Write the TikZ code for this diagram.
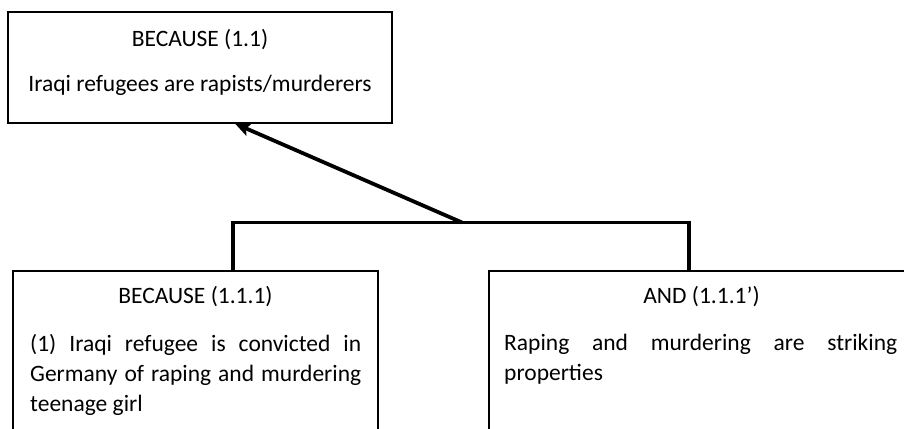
\documentclass[tikz,border=0pt]{standalone}
\usepackage{fontspec}
\setmainfont{Carlito}
\usetikzlibrary{arrows.meta,calc,positioning}

\begin{document}
\begin{tikzpicture}[x=1pt,y=-1pt,
		box/.style={draw, line width=1.3pt, inner sep=0pt},
		label/.style={font=\fontsize{23.5}{30}\selectfont, inner sep=0pt},
		body/.style={label, align=justify, execute at begin node={\hyphenpenalty=10000\exhyphenpenalty=10000}},
		link/.style={line width=3.8pt, line join=miter},
		arrowlink/.style={link, -{Stealth[length=15pt,width=13pt,inset=3pt]}}]
				\clip (0,0) rectangle (904,428);
				\useasboundingbox (0,0) rectangle (904,428);
				% boxes
				\node[box, minimum width=384pt, minimum height=111pt] (claim) at (200,67.5) {};
				\node[box, minimum width=365pt, minimum height=169pt] (reason) at (195.5,355.5) {};
				\node[box, minimum width=425pt, minimum height=169pt] (support) at (701.5,355.5) {};
				% texts
				\node[label, anchor=base] (claimhead) at (200,47) {BECAUSE (1.1)};
				\node[label, anchor=base] (claimtext) at (200,92) {Iraqi refugees are rapists/murderers};
				\node[label, anchor=base] (reasonhead) at (195.5,303) {BECAUSE (1.1.1)};
				\node[body, text width=331pt, anchor=base west] (reasontext) at (30,351) {(1) Iraqi refugee is convicted in Germany of raping and murdering teenage girl};
				\node[label, anchor=base] (supporthead) at (701.5,303) {AND (1.1.1’)};
				\node[body, text width=393pt, anchor=base west] (supporttext) at (504,350) {Raping and murdering are striking properties};
				% connectors
				\coordinate (lj) at (233,222.5);
				\coordinate (rj) at (689,222.5);
				\coordinate (split) at (462,222.5);
				\draw[link] (reason.north -| lj) -- (lj) -- (rj) -- (support.north -| rj);
				\draw[arrowlink] (split) -- ($(claim.south west)!0.591!(claim.south east)$);
\end{tikzpicture}
\end{document}
